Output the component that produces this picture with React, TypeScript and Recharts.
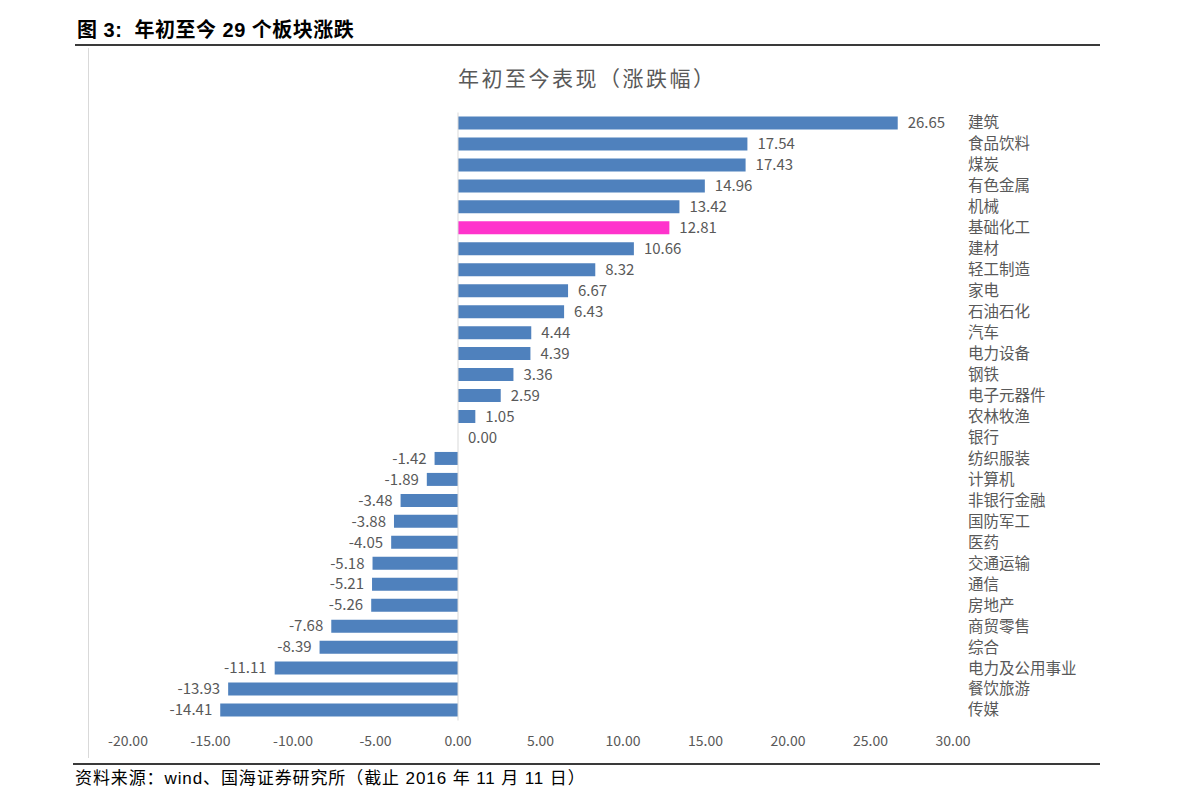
import React from 'react';
import { BarChart, Bar, XAxis, YAxis, Cell, LabelList, ReferenceLine } from 'recharts';

const categories = [
  '建筑', '食品饮料', '煤炭', '有色金属', '机械', '基础化工', '建材', '轻工制造', '家电', '石油石化',
  '汽车', '电力设备', '钢铁', '电子元器件', '农林牧渔', '银行', '纺织服装', '计算机', '非银行金融', '国防军工',
  '医药', '交通运输', '通信', '房地产', '商贸零售', '综合', '电力及公用事业', '餐饮旅游', '传媒',
];
const values = [
  26.65, 17.54, 17.43, 14.96, 13.42, 12.81, 10.66, 8.32, 6.67, 6.43,
  4.44, 4.39, 3.36, 2.59, 1.05, 0.0, -1.42, -1.89, -3.48, -3.88,
  -4.05, -5.18, -5.21, -5.26, -7.68, -8.39, -11.11, -13.93, -14.41,
];
const highlighted = ['基础化工'];
const xTicks = [-20, -15, -10, -5, 0, 5, 10, 15, 20, 25, 30];

const headerTitle = '图 3:  年初至今 29 个板块涨跌';
const chartTitle = '年初至今表现（涨跌幅）';
const footerText = '资料来源：wind、国海证券研究所（截止 2016 年 11 月 11 日）';

const data = categories.map((name, i) => ({ name, value: values[i] }));

const BLUE = '#4F81BD';
const PINK = '#FF33CC';
const TEXT = '#595959';
const FONT = '"Noto Sans CJK SC", "Noto Sans", sans-serif';

const CategoryTick = (props: any) => {
  const { x, y, payload } = props;
  return (
    <text x={x} y={y} dy="0.35em" textAnchor="start" fill={TEXT} fontSize={15.5} fontFamily={FONT}>
      {payload.value}
    </text>
  );
};

const ValueLabel = (props: any) => {
  const { x, y, width, height, value } = props;
  const v = Number(value);
  const left = Math.min(x, x + width);
  const right = Math.max(x, x + width);
  const neg = v < 0;
  const tx = neg ? left - 8 : right + 10;
  return (
    <text
      x={tx}
      y={y + height / 2}
      dy="0.35em"
      textAnchor={neg ? 'end' : 'start'}
      fill={TEXT}
      fontSize={15}
      fontFamily={FONT}
    >
      {v.toFixed(2)}
    </text>
  );
};

export default function App() {
  return (
    <div style={{ position: 'absolute', left: 0, top: 0, width: 1191, height: 811, background: '#fff', overflow: 'hidden' }}>
      <div
        style={{
          position: 'absolute', left: 77, top: 17, fontSize: 20, fontWeight: 'bold', color: '#000', letterSpacing: 0.5,
          fontFamily: '"Liberation Sans", "Noto Sans CJK SC", sans-serif', whiteSpace: 'pre', lineHeight: '26px',
        }}
      >
        {headerTitle}
      </div>
      <div style={{ position: 'absolute', left: 75, top: 44, width: 1025, height: 2, background: '#3a3a3a' }} />
      <div style={{ position: 'absolute', left: 88, top: 48, width: 1, height: 710, background: '#d9d9d9' }} />
      <div
        style={{
          position: 'absolute', left: 458, top: 62, fontSize: 21, color: TEXT, fontFamily: FONT,
          lineHeight: '30px', whiteSpace: 'pre', letterSpacing: 2.5,
        }}
      >
        {chartTitle}
      </div>
      <div style={{ position: 'absolute', left: 73, top: 763, width: 1027, height: 2, background: '#3a3a3a' }} />
      <div
        style={{
          position: 'absolute', left: 75, top: 767, fontSize: 17, color: '#000', letterSpacing: 0.9,
          fontFamily: '"Liberation Sans", "Noto Sans CJK SC", sans-serif', whiteSpace: 'pre', lineHeight: '24px',
        }}
      >
        {footerText}
      </div>
      <div style={{ position: 'absolute', left: 0, top: 0 }}>
        <BarChart
          width={1191}
          height={811}
          data={data}
          layout="vertical"
          margin={{ top: 112.5, right: 38, bottom: 60.5, left: 128 }}
          barCategoryGap={0}
        >
          <XAxis
            type="number"
            domain={[-20, 30]}
            ticks={xTicks}
            allowDataOverflow
            axisLine={false}
            tickLine={false}
            height={30}
            tickMargin={10}
            tickFormatter={(v: number) => v.toFixed(2)}
            tick={{ fill: TEXT, fontSize: 14, fontFamily: FONT }}
            interval={0}
          />
          <YAxis
            type="category"
            dataKey="name"
            orientation="right"
            width={200}
            axisLine={false}
            tickLine={false}
            tickMargin={9}
            interval={0}
            tick={<CategoryTick />}
          />
          <ReferenceLine x={0} stroke="#d9d9d9" strokeWidth={1} ifOverflow="extendDomain" />
          <Bar dataKey="value" barSize={13} minPointSize={0.01} isAnimationActive={false}>
            {data.map((d) => (
              <Cell key={d.name} fill={highlighted.includes(d.name) ? PINK : BLUE} />
            ))}
            <LabelList dataKey="value" content={<ValueLabel />} />
          </Bar>
        </BarChart>
      </div>
    </div>
  );
}
